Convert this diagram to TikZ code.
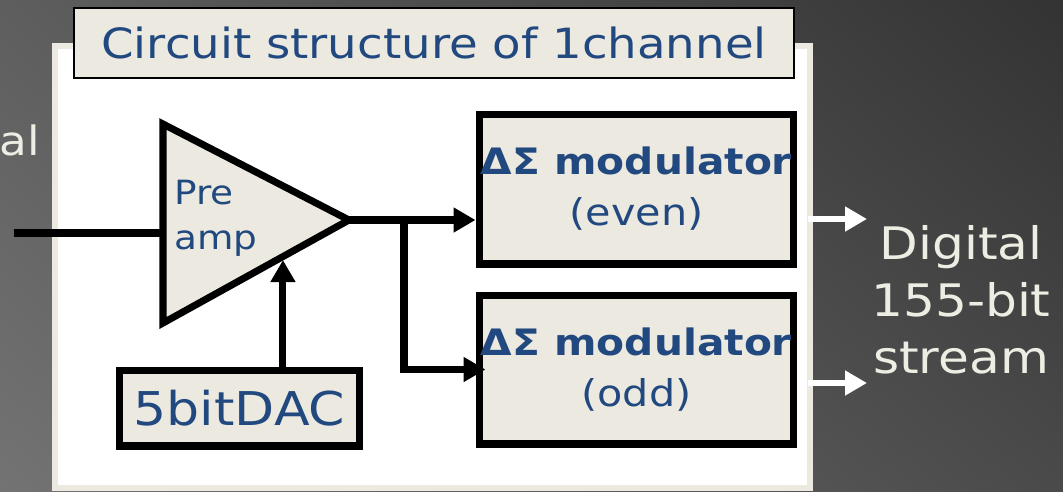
\documentclass[tikz,border=0pt]{standalone}
\usepackage{fontspec}
\setmainfont[FakeStretch=1.12]{DejaVu Sans}
\usetikzlibrary{arrows.meta, positioning, calc, shadings}
\definecolor{cblue}{HTML}{22497F}
\definecolor{cbeige}{HTML}{ECEAE0}
\definecolor{clight}{HTML}{EEEDE3}
\definecolor{bgul}{HTML}{5E5E5E}
\definecolor{bgll}{HTML}{737373}
\definecolor{bgur}{HTML}{333333}
\definecolor{bglr}{HTML}{4A4A4A}

\begin{document}
\begin{tikzpicture}[x=0.02cm, y=-0.02cm,
  block/.style={draw=black, line width=4pt, fill=cbeige, text=cblue, align=center, inner sep=0pt},
  modblock/.style={block, minimum width=6.3cm, font=\fontsize{21}{29}\selectfont},
  wire/.style={line width=4pt},
  arr/.style={wire, -{Triangle[length=12.5pt, width=13.5pt]}},
  outarr/.style={line width=3.4pt, white, -{Triangle[length=12.5pt, width=13.5pt]}}]
  \useasboundingbox (0,0) rectangle (1063,491);
  \shade[upper left=bgul, upper right=bgur, lower left=bgll, lower right=bglr] (0,0) rectangle (1063,491);

  % Panel
  \fill[cbeige] (52,43) rectangle (813,491);
  \fill[white] (58,49) rectangle (807,485);

  \node (title) [draw=black, line width=1.2pt, fill=cbeige, text=cblue,
    minimum width=14.4cm, minimum height=1.4cm, font=\fontsize{23.7}{28}\selectfont]
    at (434,43) {Circuit structure of 1channel};

  \node (cut) [anchor=base west, inner sep=0pt, text=clight, font=\fontsize{23}{28}\selectfont] at (-1,155) {al};

  % Preamp
  \coordinate (amptop) at (163,124);
  \coordinate (ampbot) at (163,323);
  \coordinate (amptip) at (349,220);
  \draw[wire, fill=cbeige] (amptop) -- (amptip) -- (ampbot) -- cycle;
  \node (amplabel) [anchor=west, align=left, text=cblue, inner sep=0pt,
    font=\fontsize{19}{25.5}\selectfont] at (174,218) {Pre\\amp};

  \coordinate (in) at (14,233);
  \draw[wire] (in) -- (in -| amptop);

  % Modulators and DAC
  \node (modeven) [modblock, minimum height=3cm] at (636.5,189)
    {{\bfseries\fontsize{20.7}{29}\selectfont ΔΣ modulator}\\(even)};
  \node (mododd) [modblock, minimum height=2.98cm] at (636.5,369.5)
    {{\bfseries\fontsize{20.7}{29}\selectfont ΔΣ modulator}\\(odd)};
  \node (dac) [block, minimum width=4.82cm, minimum height=1.52cm,
    font=\fontsize{26.5}{30}\selectfont] at (239.5,408) {5bitDAC};

  \coordinate (split) at (404,220);
  \coordinate (oddin) at ([xshift=0.2cm]mododd.west);
  \coordinate (dacin) at ($(ampbot)!0.645!(amptip)$);
  \draw[arr] (amptip) -- (amptip -| modeven.west);
  \draw[arr] (split) |- (oddin);
  \draw[arr, shorten >=2pt] (dac.north -| dacin) -- (dacin);

  % Output
  \node (stream) [align=center, text=clight, font=\fontsize{25.5}{32.3}\selectfont]
    at (961,300) {Digital\\155-bit\\stream};
  \coordinate (outeven) at (808,219);
  \coordinate (outodd) at (808,383);
  \coordinate (outevenend) at (867,219);
  \coordinate (outoddend) at (867,383);
  \draw[outarr] (outeven) -- (outevenend);
  \draw[outarr] (outodd) -- (outoddend);
\end{tikzpicture}
\end{document}
